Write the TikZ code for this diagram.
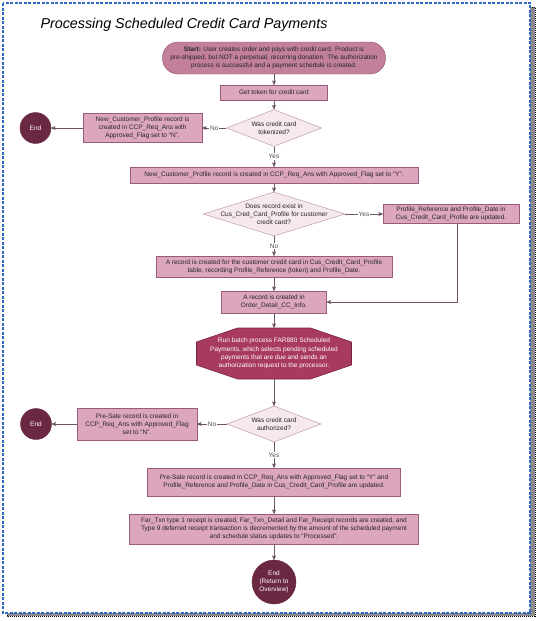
\documentclass[tikz,border=0pt]{standalone}
\usepackage{fontspec}
\setmainfont{Liberation Sans}
\usetikzlibrary{arrows,shapes.geometric}
\definecolor{startfill}{HTML}{C2809A}
\definecolor{startdraw}{HTML}{8C4A68}
\definecolor{procfill}{HTML}{DCA6BD}
\definecolor{procdraw}{HTML}{9A5A7C}
\definecolor{decfill}{HTML}{F6E8EF}
\definecolor{decdraw}{HTML}{B88AA2}
\definecolor{endfill}{HTML}{6A2842}
\definecolor{batchfill}{HTML}{A83A62}
\definecolor{batchdraw}{HTML}{7A2244}
\definecolor{linec}{HTML}{6E5566}
\definecolor{framec}{HTML}{2F68C4}
\tikzset{
  base/.style = {align=center, inner sep=0pt, text centered,
    font=\fontsize{6.5}{8.3}\selectfont, text=black!85},
  wh/.style 2 args = {minimum width=#1, minimum height=#2},
  startnd/.style = {base, rectangle, rounded corners=15.5pt, draw=startdraw,
    fill=startfill},% start terminal
  proc/.style = {base, rectangle, draw=procdraw, fill=procfill},% process box
  dec/.style = {base, diamond, draw=decdraw, fill=decfill},% decision, text as label
  endnd/.style = {base, circle, draw=endfill, fill=endfill, text=white},% end circle
  batch/.style = {base, text=white},% text of the batch octagon
  lbl/.style = {base, fill=white, inner sep=1pt, text=black!70},
  conn/.style = {draw=linec, line width=0.6pt}
}

\begin{document}
\begin{tikzpicture}[x=1pt,y=-1pt,->,>=stealth']
\useasboundingbox (0,0) rectangle (541,621);
% frame with shadow
\draw[fill=black!45, draw=black, line width=0.8pt, dash pattern=on 1pt off 1pt] (7,7) rectangle (535,616);
\draw[fill=white, draw=framec, line width=1.1pt, dash pattern=on 3pt off 1.5pt] (3,3) rectangle (530,613);
\node[anchor=west, font=\fontsize{14.3}{16}\selectfont\itshape] (title) at (37,25)
  {Processing Scheduled Credit Card Payments};

\node[startnd, wh={223pt}{32pt}] (start) at (274,58)
  {\textbf{Start:} User creates order and pays with credit card. Product is\\
   pre-shipped, but NOT a perpetual, recurring donation. The authorization\\
   process is successful and a payment schedule is created.};
\node[proc, wh={107pt}{15pt}] (token) at (274,92.5) {Get token for credit card};
\node[dec, wh={95pt}{37pt}, label={[base]center:{Was credit card\\tokenized?}}] (tok) at (274,128) {};
\node[proc, wh={119pt}{29pt}] (tokno) at (142.5,128)
  {New\_Customer\_Profile record is\\ created in CCP\_Req\_Ans with\\ Approved\_Flag set to ``N''.};
\node[endnd, minimum size=31pt] (endtok) at (35.5,128) {End};
\node[proc, wh={288pt}{16pt}] (tokyes) at (274,175)
  {New\_Customer\_Profile record is created in CCP\_Req\_Ans with Approved\_Flag set to ``Y''.};
\node[dec, wh={142pt}{44pt}, label={[base]center:{Does record exist in\\ Cus\_Cred\_Card\_Profile for customer\\ credit card?}}] (exist) at (274,214) {};
\node[proc, wh={136pt}{19pt}] (upd) at (451,214)
  {Profile\_Reference and Profile\_Date in\\ Cus\_Credit\_Card\_Profile are updated.};
\node[proc, wh={236pt}{21pt}] (cust) at (274,266.5)
  {A record is created for the customer credit card in Cus\_Credit\_Card\_Profile\\
   table, recording Profile\_Reference (token) and Profile\_Date.};
\node[proc, wh={105pt}{22pt}] (order) at (274,302)
  {A record is created in\\ Order\_Detail\_CC\_Info.};
% batch octagon
\draw[fill=batchfill, draw=batchdraw, line width=0.6pt]
  (196.5,342) -- (237.5,328) -- (310.5,328) -- (351.5,342) -- (351.5,365)
  -- (310.5,379) -- (237.5,379) -- (196.5,365) -- cycle;
\node[batch, wh={155pt}{51pt}] (run) at (274,353.5)
  {Run batch process FAR880 Scheduled\\ Payments, which selects pending scheduled\\
   payments that are due and sends an\\ authorization request to the processor.};
\node[dec, wh={94pt}{36pt}, label={[base]center:{Was credit card\\ authorized?}}] (auth) at (274,424) {};
\node[proc, wh={120pt}{32pt}] (authno) at (137,424)
  {Pre-Sale record is created in\\ CCP\_Req\_Ans with Approved\_Flag\\ set to ``N''.};
\node[endnd, minimum size=31pt] (endauth) at (36,424) {End};
\node[proc, wh={253pt}{28pt}] (authyes) at (274,482)
  {Pre-Sale record is created in CCP\_Req\_Ans with Approved\_Flag set to ``Y'' and\\
   Profile\_Reference and Profile\_Date in Cus\_Credit\_Card\_Profile are updated.};
\node[proc, wh={289pt}{30pt}] (far) at (274,529)
  {Far\_Txn type 1 receipt is created, Far\_Txn\_Detail and Far\_Receipt records are created, and\\
   Type 9 deferred receipt transaction is decremented by the amount of the scheduled payment\\
   and schedule status updates to ``Processed''.};
\node[endnd, minimum size=44pt] (endall) at (274,582) {End\\ (Return to\\ Overview)};

% connectors
\draw[conn] (start) -- (token);
\draw[conn] (token) -- (tok);
\draw[conn] (tok.west) -- node[lbl] (tokn) {No} (tokno.east);
\draw[conn] (tokno) -- (endtok);
\draw[conn] (tok.south) -- node[lbl] (toky) {Yes} (tokyes.north);
\draw[conn] (tokyes) -- (exist);
\draw[conn] (exist.east) -- node[lbl] (existy) {Yes} (upd.west);
\draw[conn] (exist.south) -- node[lbl] (existn) {No} (cust.north);
\draw[conn] (cust) -- (order);
\draw[conn] ([xshift=6pt]upd.south) |- (order.east);
\draw[conn] (order) -- (run);
\draw[conn] (run.south) -- (auth.north);
\draw[conn] (auth.west) -- node[lbl] (authn) {No} (authno.east);
\draw[conn] (authno) -- (endauth);
\draw[conn] (auth.south) -- node[lbl] (authy) {Yes} (authyes.north);
\draw[conn] (authyes) -- (far);
\draw[conn] (far) -- (endall);
\end{tikzpicture}
\end{document}
